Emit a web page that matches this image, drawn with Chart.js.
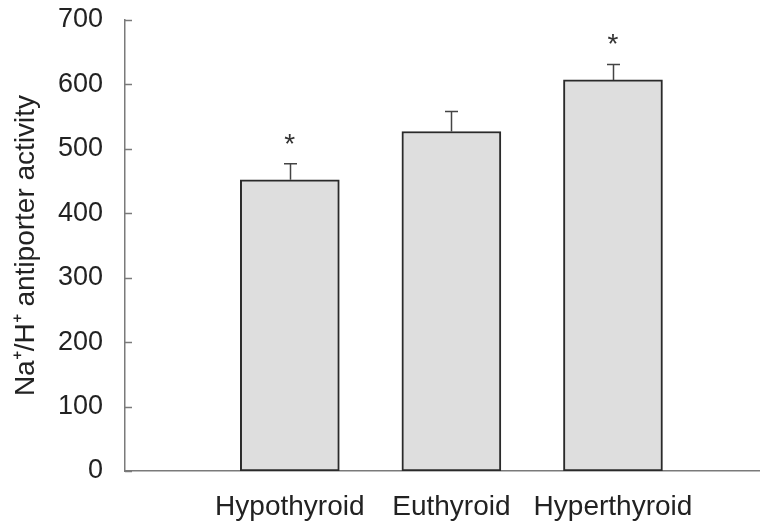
<!DOCTYPE html>
<html>
<head>
<meta charset="utf-8">
<script src="https://cdn.jsdelivr.net/npm/chart.js@4.4.0/dist/chart.umd.min.js"></script>
<style>
  html, body { margin: 0; padding: 0; background: #fff; overflow: hidden; }
  canvas { display: block; }
</style>
</head>
<body>
<canvas id="c" width="760" height="525"></canvas>
<script>
const categories = ['Hypothyroid', 'Euthyroid', 'Hyperthyroid'];
const values = [452, 527, 607];
const errors = [25, 31, 24];
const significance = ['*', '', '*'];
const yTicks = [0, 100, 200, 300, 400, 500, 600, 700];
const yTitle = 'Na\u207A/H\u207A antiporter activity';

const FONT = '"Liberation Sans", Arial, Helvetica, sans-serif';
const TEXT = '#222';
const AXIS = '#7a7a7a';

const extras = {
  id: 'extras',
  afterDatasetsDraw(chart) {
    const ctx = chart.ctx;
    const ys = chart.scales.y;
    const meta = chart.getDatasetMeta(0);
    ctx.save();
    ctx.strokeStyle = AXIS;
    ctx.lineWidth = 1.5;
    const ax = chart.chartArea.left;
    yTicks.forEach(t => {
      const py = Math.round(ys.getPixelForValue(t)) + 0.5;
      ctx.beginPath();
      ctx.moveTo(ax, py);
      ctx.lineTo(ax + 7, py);
      ctx.stroke();
    });
    meta.data.forEach((el, i) => {
      const x = Math.round(el.x) + 0.5;
      const yTop = ys.getPixelForValue(values[i]);
      const yCap = ys.getPixelForValue(values[i] + errors[i]);
      ctx.strokeStyle = '#444';
      ctx.lineWidth = 1.5;
      ctx.beginPath();
      ctx.moveTo(x, yTop);
      ctx.lineTo(x, yCap);
      ctx.moveTo(x - 6.5, yCap);
      ctx.lineTo(x + 6.5, yCap);
      ctx.stroke();
      if (significance[i]) {
        ctx.fillStyle = '#333';
        ctx.font = '28px ' + FONT;
        ctx.textAlign = 'center';
        ctx.textBaseline = 'alphabetic';
        ctx.fillText(significance[i], el.x, yCap - 11);
      }
    });
    ctx.restore();
  }
};

new Chart(document.getElementById('c'), {
  type: 'bar',
  data: {
    datasets: [{
      data: values.map((v, i) => ({ x: i + 1, y: v })),
      backgroundColor: '#dedede',
      borderColor: '#2a2a2a',
      borderWidth: 2,
      borderSkipped: false,
      barThickness: 99
    }]
  },
  options: {
    responsive: false,
    animation: false,
    layout: { padding: { top: 20, right: 0, bottom: 0, left: 0 } },
    plugins: { legend: { display: false }, tooltip: { enabled: false } },
    scales: {
      x: {
        type: 'linear',
        offset: false,
        min: -0.02,
        max: 3.91,
        afterBuildTicks: s => { s.ticks = categories.map((c, i) => ({ value: i + 1 })); },
        afterFit: s => { s.height = 54; s.paddingLeft = 0; s.paddingRight = 0; },
        ticks: {
          callback: v => categories[v - 1] ?? '',
          autoSkip: false,
          maxRotation: 0,
          padding: 19,
          color: TEXT,
          font: { family: FONT, size: 28 }
        },
        grid: { display: false, drawTicks: false, offset: false },
        border: { display: true, color: AXIS, width: 1.5 }
      },
      y: {
        min: 0,
        max: 700,
        afterBuildTicks: s => { s.ticks = yTicks.map(v => ({ value: v })); },
        afterFit: s => { s.width = 125; s.paddingTop = 0; s.paddingBottom = 0; },
        ticks: {
          padding: 22,
          color: TEXT,
          font: { family: FONT, size: 27 }
        },
        grid: { display: false, drawTicks: false },
        border: { display: true, color: AXIS, width: 1.5 },
        title: {
          display: true,
          text: yTitle,
          color: TEXT,
          font: { family: FONT, size: 28 },
          padding: { top: 9, bottom: 0 }
        }
      }
    }
  },
  plugins: [extras]
});
</script>
</body>
</html>
